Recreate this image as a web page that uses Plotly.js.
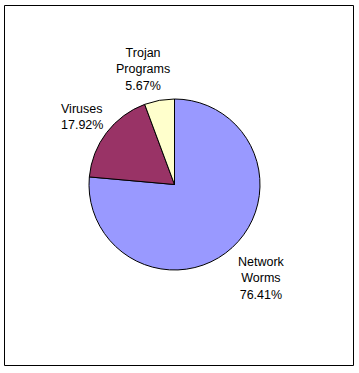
<!DOCTYPE html>
<html>
<head>
<meta charset="utf-8">
<script src="https://cdn.plot.ly/plotly-3.0.1.min.js"></script>
<style>html,body{margin:0;padding:0;background:#fff;}#chart{width:359px;height:373px;}</style>
</head>
<body>
<div id="chart"></div>
<script>
const categories = ["Network Worms", "Viruses", "Trojan Programs"];
const values = [76.41, 17.92, 5.67];
const labelLines = [["Network", "Worms"], ["Viruses"], ["Trojan", "Programs"]];
const colors = ["#9999FF", "#993366", "#FFFFCC"];

const W = 359, H = 373;
const cx = 174.5, cy = 184.5, r = 85.5;

// label anchor positions (pixels) and horizontal anchoring
const labelPos = [[261.5, 278.5], [59, 117], [142.5, 69.5]];
const labelAnchor = ["center", "left", "center"];

const annotations = categories.map((c, i) => ({
  xref: "paper", yref: "paper",
  x: labelPos[i][0] / W, y: 1 - labelPos[i][1] / H,
  xanchor: labelAnchor[i], yanchor: "middle",
  showarrow: false,
  align: labelAnchor[i],
  text: labelLines[i].concat([values[i].toFixed(2) + "%"]).join("<br>"),
  font: {family: "Liberation Sans, Arial, sans-serif", size: 12.5, color: "#000"}
}));

const data = [{
  type: "pie",
  labels: categories,
  values: values,
  sort: false,
  direction: "clockwise",
  rotation: 0,
  textinfo: "none",
  hoverinfo: "label+percent",
  marker: {colors: colors, line: {color: "#000", width: 1}},
  domain: {x: [(cx - r) / W, (cx + r) / W], y: [1 - (cy + r) / H, 1 - (cy - r) / H]}
}];

const layout = {
  width: W, height: H,
  margin: {l: 0, r: 0, t: 0, b: 0},
  paper_bgcolor: "#fff",
  showlegend: false,
  annotations: annotations,
  shapes: [{
    type: "rect", xref: "paper", yref: "paper",
    x0: 4.5 / W, x1: 353.5 / W, y0: 1 - 365.5 / H, y1: 1 - 5.5 / H,
    line: {color: "#000", width: 1}, fillcolor: "rgba(0,0,0,0)"
  }]
};

Plotly.newPlot("chart", data, layout, {displayModeBar: false, staticPlot: true});
</script>
</body>
</html>
